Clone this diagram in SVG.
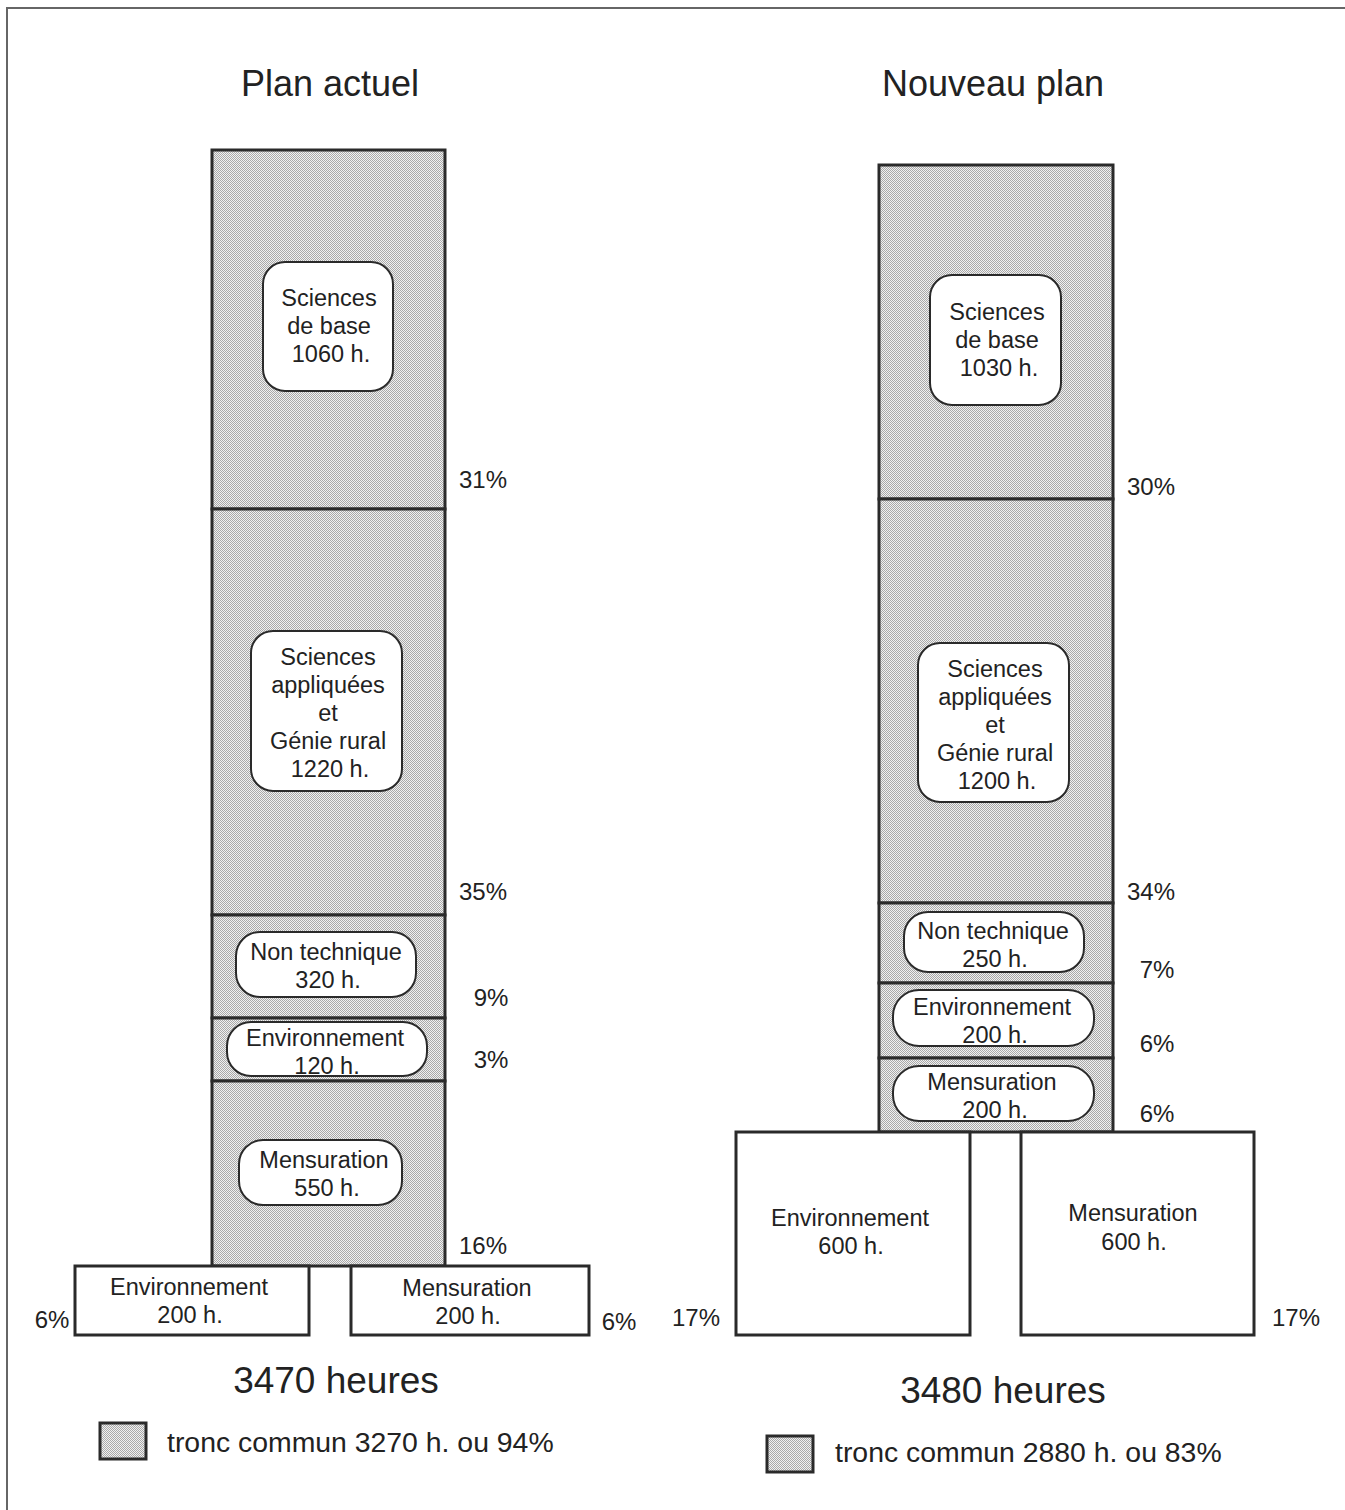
<svg xmlns="http://www.w3.org/2000/svg" width="1345" height="1510" viewBox="0 0 1345 1510">
<defs>
<pattern id="stip" width="2" height="2" patternUnits="userSpaceOnUse">
<rect width="2" height="2" fill="#f0f0f0"/>
<rect x="0" y="0" width="1" height="1" fill="#a8a8a8"/>
<rect x="1" y="1" width="1" height="1" fill="#a8a8a8"/>
</pattern>
<style>
text{font-family:"Liberation Sans",Arial,sans-serif;fill:#222;text-anchor:middle}
.seg{fill:url(#stip);stroke:#2a2a2a;stroke-width:3}
.lab{fill:#fff;stroke:#2a2a2a;stroke-width:2}
.base{fill:#fff;stroke:#2a2a2a;stroke-width:3}
.t{font-size:23.5px}
.p{font-size:24px}
.big{font-size:36px}
.tot{font-size:37px}
.leg{font-size:28.4px;text-anchor:start}
</style>
</defs>
<rect width="1345" height="1510" fill="#fff"/>
<path d="M7 1510V8H1345" fill="none" stroke="#666" stroke-width="2"/>

<text class="big" x="330" y="96">Plan actuel</text>
<text class="big" x="993" y="96">Nouveau plan</text>

<!-- Left column -->
<g id="L-base">
<rect class="seg" x="212" y="150" width="233" height="359"/>
<rect class="lab" x="263" y="262" width="130" height="129" rx="22"/>
<text class="t" x="329" y="306">Sciences</text>
<text class="t" x="329" y="334">de base</text>
<text class="t" x="331" y="362">1060 h.</text>
<text class="p" x="483" y="488">31%</text>
</g>
<g id="L-appl">
<rect class="seg" x="212" y="509" width="233" height="406"/>
<rect class="lab" x="251" y="631" width="151" height="160" rx="22"/>
<text class="t" x="328" y="665">Sciences</text>
<text class="t" x="328" y="693">appliquées</text>
<text class="t" x="328" y="721">et</text>
<text class="t" x="328" y="749">Génie rural</text>
<text class="t" x="330" y="777">1220 h.</text>
<text class="p" x="483" y="900">35%</text>
</g>
<g id="L-nontech">
<rect class="seg" x="212" y="915" width="233" height="103"/>
<rect class="lab" x="236" y="932" width="180" height="65" rx="24"/>
<text class="t" x="326" y="960">Non technique</text>
<text class="t" x="328" y="988">320 h.</text>
<text class="p" x="491" y="1006">9%</text>
</g>
<g id="L-env">
<rect class="seg" x="212" y="1018" width="233" height="63"/>
<rect class="lab" x="227" y="1022" width="200" height="54" rx="24"/>
<text class="t" x="325" y="1046">Environnement</text>
<text class="t" x="327" y="1074">120 h.</text>
<text class="p" x="491" y="1068">3%</text>
</g>
<g id="L-mens">
<rect class="seg" x="212" y="1081" width="233" height="185"/>
<rect class="lab" x="239" y="1140" width="163" height="65" rx="24"/>
<text class="t" x="324" y="1168">Mensuration</text>
<text class="t" x="327" y="1196">550 h.</text>
<text class="p" x="483" y="1254">16%</text>
</g>
<g id="L-env-opt">
<rect class="base" x="75" y="1266" width="234" height="69"/>
<text class="t" x="189" y="1295">Environnement</text>
<text class="t" x="190" y="1323">200 h.</text>
<text class="p" x="52" y="1328">6%</text>
</g>
<g id="L-mens-opt">
<rect class="base" x="351" y="1266" width="238" height="69"/>
<text class="t" x="467" y="1296">Mensuration</text>
<text class="t" x="468" y="1324">200 h.</text>
<text class="p" x="619" y="1330">6%</text>
</g>
<g id="L-total">
<text class="tot" x="336" y="1393">3470 heures</text>
</g>
<g id="L-legend">
<rect class="seg" x="100" y="1423" width="46" height="36" stroke-width="2.5"/>
<text class="leg" x="167" y="1452">tronc commun 3270 h. ou 94%</text>
</g>

<!-- Right column -->
<g id="R-base">
<rect class="seg" x="879" y="165" width="234" height="334"/>
<rect class="lab" x="930" y="275" width="131" height="130" rx="22"/>
<text class="t" x="997" y="320">Sciences</text>
<text class="t" x="997" y="348">de base</text>
<text class="t" x="999" y="376">1030 h.</text>
<text class="p" x="1151" y="495">30%</text>
</g>
<g id="R-appl">
<rect class="seg" x="879" y="499" width="234" height="404"/>
<rect class="lab" x="918" y="643" width="151" height="159" rx="22"/>
<text class="t" x="995" y="677">Sciences</text>
<text class="t" x="995" y="705">appliquées</text>
<text class="t" x="995" y="733">et</text>
<text class="t" x="995" y="761">Génie rural</text>
<text class="t" x="997" y="789">1200 h.</text>
<text class="p" x="1151" y="900">34%</text>
</g>
<g id="R-nontech">
<rect class="seg" x="879" y="903" width="234" height="80"/>
<rect class="lab" x="904" y="912" width="180" height="60" rx="24"/>
<text class="t" x="993" y="939">Non technique</text>
<text class="t" x="995" y="967">250 h.</text>
<text class="p" x="1157" y="978">7%</text>
</g>
<g id="R-env">
<rect class="seg" x="879" y="983" width="234" height="75"/>
<rect class="lab" x="893" y="990" width="201" height="56" rx="26"/>
<text class="t" x="992" y="1015">Environnement</text>
<text class="t" x="995" y="1043">200 h.</text>
<text class="p" x="1157" y="1052">6%</text>
</g>
<g id="R-mens">
<rect class="seg" x="879" y="1058" width="234" height="74"/>
<rect class="lab" x="893" y="1066" width="201" height="55" rx="26"/>
<text class="t" x="992" y="1090">Mensuration</text>
<text class="t" x="995" y="1118">200 h.</text>
<text class="p" x="1157" y="1122">6%</text>
</g>
<g id="R-env-opt">
<rect class="base" x="736" y="1132" width="234" height="203"/>
<text class="t" x="850" y="1226">Environnement</text>
<text class="t" x="851" y="1254">600 h.</text>
<text class="p" x="696" y="1326">17%</text>
</g>
<g id="R-mens-opt">
<rect class="base" x="1021" y="1132" width="233" height="203"/>
<text class="t" x="1133" y="1221">Mensuration</text>
<text class="t" x="1134" y="1250">600 h.</text>
<text class="p" x="1296" y="1326">17%</text>
</g>
<g id="R-total">
<text class="tot" x="1003" y="1403">3480 heures</text>
</g>
<g id="R-legend">
<rect class="seg" x="767" y="1436" width="46" height="36" stroke-width="2.5"/>
<text class="leg" x="835" y="1462">tronc commun 2880 h. ou 83%</text>
</g>
<g id="connectors"/>
</svg>
